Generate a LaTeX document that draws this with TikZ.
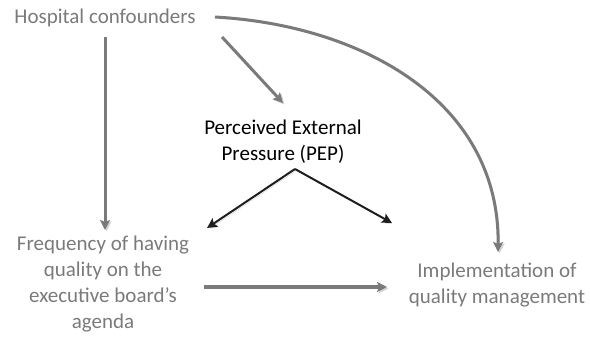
\documentclass[tikz,border=0pt]{standalone}
\usepackage{fontspec}
\setmainfont{Carlito}
\usetikzlibrary{arrows.meta}
\definecolor{txtgray}{HTML}{7A7A7A}
\definecolor{lngray}{HTML}{7A7A7A}
\definecolor{lnblack}{HTML}{1E1E1E}
\definecolor{shd}{HTML}{D4D4D4}
\begin{document}
\begin{tikzpicture}[x=1pt,y=-1pt,
  lbl/.style={font=\fontsize{21}{25.7}\selectfont, text=txtgray, align=center, inner sep=0pt},
  pep/.style={font=\fontsize{21}{25.7}\selectfont, text=black, align=center, inner sep=0pt},
  grayarrow/.style={draw=lngray, line width=3pt, -{Stealth[length=10pt,width=10pt,inset=2pt]}},
  blackarrow/.style={draw=lnblack, line width=2pt, -{Stealth[length=10pt,width=10pt,inset=2pt]}},
  shadowed/.style={preaction={draw=shd, transform canvas={xshift=1.5pt,yshift=-1.5pt}}}]
\useasboundingbox (0,0) rectangle (590,337);
\node[lbl] (hc) at (105,18) {Hospital confounders};
\node[pep] (pep) at (283,142) {Perceived External\\Pressure (PEP)};
\node[lbl] (freq) at (103,284) {Frequency of having\\quality on the\\executive board's\\agenda};
\node[lbl] (impl) at (497,285) {Implementation of\\quality management};
\coordinate (a1s) at (105,37);
\coordinate (a1e) at (105,230);
\coordinate (a2s) at (222,37);
\coordinate (a2e) at (283,103);
\coordinate (cs) at (215,17);
\coordinate (ce) at (498,252);
\coordinate (ps) at (295,169);
\coordinate (pl) at (207,228);
\coordinate (pr) at (392,223);
\coordinate (hs) at (204,287);
\coordinate (he) at (387,287);
\draw[grayarrow,shadowed] (a1s) -- (a1e);
\draw[grayarrow,shadowed] (a2s) -- (a2e);
\draw[grayarrow,shadowed] (cs) .. controls (360,25) and (500,100) .. (ce);
\draw[blackarrow,shadowed] (ps) -- (pl);
\draw[blackarrow,shadowed] (ps) -- (pr);
\draw[grayarrow,line width=3.6pt,shadowed] (hs) -- (he);
\end{tikzpicture}
\end{document}
